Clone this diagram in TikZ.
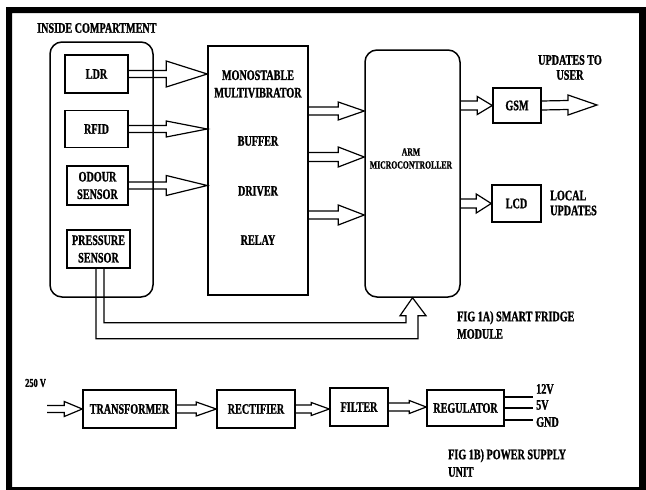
\documentclass[tikz,border=0pt]{standalone}
\usepackage{fontspec}
\newfontfamily\diagfont{Liberation Serif Bold}[FakeStretch=0.7, FakeBold=1.2]
\usetikzlibrary{calc}
\tikzset{
  box/.style={draw, line width=1.5pt, inner sep=0pt, align=center, font=\diagfont\fontsize{14.5}{17.5}\selectfont},
  roundbox/.style={box, rounded corners=12pt},
  txt/.style={inner sep=0pt, align=center, font=\diagfont\fontsize{14.5}{17.5}\selectfont},
  hollow/.style={line width=1.2pt, line join=miter},
  wire/.style={line width=1.8pt}
}
% hollow block arrow: from, tip, half shaft, half head, head length
\newcommand{\blockarrow}[5]{%
  \draw[hollow] ($(#1)+(0,#3)$) -- ($(#2)+(-#5,#3)$) -- ($(#2)+(-#5,#4)$) -- (#2)
    -- ($(#2)+(-#5,-#4)$) -- ($(#2)+(-#5,-#3)$) -- ($(#1)+(0,-#3)$);}
\begin{document}
\begin{tikzpicture}[x=1pt, y=-1pt]
				\useasboundingbox (0,0) rectangle (646,490);
				% 1. outer frame
				\fill[black, even odd rule] (6,7) rectangle (646,490) (12,13) rectangle (639,487);
				
				% 2. inside compartment
				\node[txt, anchor=west] (inside) at (37,28) {INSIDE COMPARTMENT};
				\node[roundbox, minimum width=103pt, minimum height=255pt] (comp) at (101.5,169.5) {};
				\node[box, minimum width=63pt, minimum height=38pt] (ldr) at (96.5,74) {LDR};
				\node[box, minimum width=63pt, minimum height=37pt] (rfid) at (96.5,129) {RFID};
				\node[box, minimum width=61pt, minimum height=39pt] (odour) at (97.5,185.5) {ODOUR\\SENSOR};
				\node[box, minimum width=63pt, minimum height=38pt] (press) at (98.5,249) {PRESSURE\\SENSOR};
				
				% 3. driver block and controller
				\node[box, minimum width=100pt, minimum height=249pt] (mono) at (258,170.5) {};
				\node[txt] (multi) at (258,84) {MONOSTABLE\\MULTIVIBRATOR};
				\node[txt] (buffer) at (258,141) {BUFFER};
				\node[txt] (driver) at (258,191) {DRIVER};
				\node[txt] (relay) at (258,240) {RELAY};
				\node[roundbox, minimum width=95pt, minimum height=247pt] (arm) at (412.5,173.5) {};
				\node[txt, font=\diagfont\fontsize{11}{13}\selectfont] (armtxt) at (411,158.5) {ARM\\MICROCONTROLLER};
				
				% 4. outputs
				\node[box, minimum width=48pt, minimum height=35pt] (gsm) at (517,105.5) {GSM};
				\node[box, minimum width=49pt, minimum height=37pt] (lcd) at (516.5,203.5) {LCD};
				\node[txt, font=\diagfont\fontsize{14.5}{15}\selectfont] (user) at (570,67.5) {UPDATES TO\\USER};
				\node[txt, anchor=west, align=left, font=\diagfont\fontsize{14.5}{15}\selectfont] (local) at (550,203) {LOCAL\\UPDATES};
				\node[txt, anchor=west, align=left] (fig1a) at (457,325) {FIG 1A) SMART FRIDGE\\MODULE};
				\coordinate (m1) at (308,111);
				\coordinate (m2) at (308,157);
				\coordinate (m3) at (308,215);
				\coordinate (usrout) at (597,105);
				
				% 5. block arrows
				\blockarrow{ldr.east}{mono.west |- ldr.east}{3.5}{13}{41}
				\blockarrow{rfid.east}{mono.west |- rfid.east}{3.5}{8}{41}
				\blockarrow{odour.east}{mono.west |- odour.east}{3.5}{10}{41}
				\blockarrow{m1}{arm.west |- m1}{4}{9}{26}
				\blockarrow{m2}{arm.west |- m2}{4.5}{10}{26}
				\blockarrow{m3}{arm.west |- m3}{4}{10}{26}
				\blockarrow{arm.east |- gsm.west}{gsm.west}{4.5}{9}{15}
				\blockarrow{gsm.east}{usrout}{4.5}{10}{29}
				\blockarrow{arm.east |- lcd.west}{lcd.west}{4.5}{9.5}{15}
				\draw[hollow] ($(press.south)+(-2.5,0)$) -- ++(0,70) -- ($(arm.south)+(5.5,41)$)
					-- ($(arm.south)+(5.5,18)$) -- ($(arm.south)+(13.5,18)$) -- (arm.south)
					-- ($(arm.south)+(-12.5,18)$) -- ($(arm.south)+(-6.5,18)$) -- ($(arm.south)+(-6.5,25)$)
					-- ($(press.south)+(5.5,54)$) -- ($(press.south)+(5.5,0)$);
				
				% 6. power supply unit
				\node[txt, anchor=west, font=\diagfont\fontsize{12}{14}\selectfont] (volt) at (25,383) {250 V};
				\coordinate (mains) at (47,409);
				\node[box, minimum width=93pt, minimum height=38pt] (trans) at (129.5,409) {TRANSFORMER};
				\node[box, minimum width=78pt, minimum height=38pt] (rect) at (256,409) {RECTIFIER};
				\node[box, minimum width=58pt, minimum height=38pt] (filt) at (359,407) {FILTER};
				\node[box, minimum width=77pt, minimum height=36pt] (reg) at (465.5,408) {REGULATOR};
				\blockarrow{mains}{trans.west}{3.5}{7.5}{18}
				\blockarrow{trans.east}{rect.west}{4}{7}{20}
				\blockarrow{rect.east}{filt.west |- rect.east}{4}{6.5}{18}
				\blockarrow{filt.east}{reg.west |- filt.east}{4}{6.5}{17}
				\coordinate (o12) at (533,397);
				\coordinate (o5) at (533,408);
				\coordinate (ognd) at (533,420);
				\draw[wire] (reg.east |- o12) -- (o12);
				\draw[wire] (reg.east |- o5) -- (o5);
				\draw[wire] (reg.east |- ognd) -- (ognd);
				\node[txt, anchor=west] (l12) at (536,389) {12V};
				\node[txt, anchor=west] (l5) at (536,405) {5V};
				\node[txt, anchor=west] (lgnd) at (536,422) {GND};
				\node[txt, anchor=west, align=left] (fig1b) at (448,463) {FIG 1B) POWER SUPPLY\\UNIT};
			\end{tikzpicture}
\end{document}
